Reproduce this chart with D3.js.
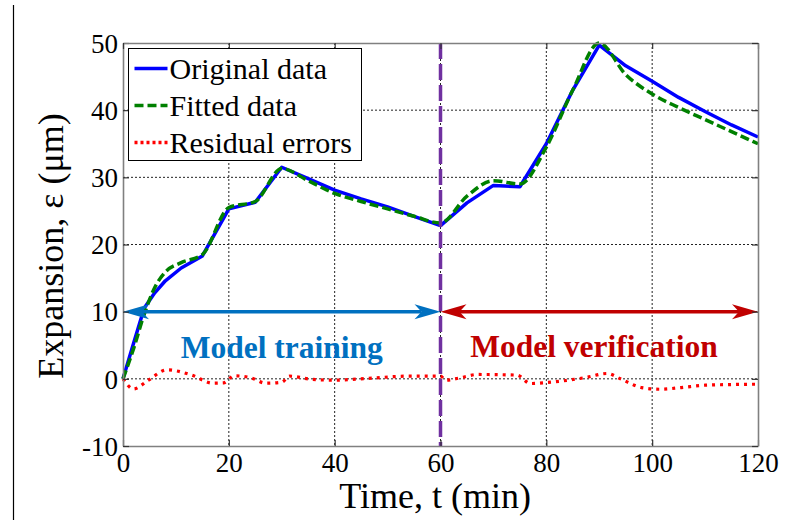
<!DOCTYPE html>
<html>
<head>
<meta charset="utf-8">
<script src="https://cdn.jsdelivr.net/npm/d3@7"></script>
<style>
  body { margin: 0; background: #fff; }
  svg text { font-family: "Liberation Serif", "DejaVu Serif", serif; }
</style>
</head>
<body>
<div id="chart"></div>
<script>
// data
var tOrig = [0, 2, 4, 6, 8, 11, 15, 20, 25, 30, 35, 40, 45, 50, 55, 60, 65, 70, 75, 80, 85, 90, 95, 100, 105, 110, 115, 120];
var vOrig = [0, 5.3, 10.5, 12.8, 14.6, 16.5, 18.3, 25.3, 26.3, 31.5, 29.8, 28.1, 26.8, 25.6, 24.2, 22.8, 26.2, 28.8, 28.6, 35, 43, 49.7, 46.6, 44.3, 41.9, 39.8, 37.8, 36];
var tFit = [0, 2, 4, 6, 8, 11, 15, 20, 25, 30, 35, 40, 45, 50, 55, 60, 65, 70, 75, 80, 85, 90, 95, 100, 105, 110, 115, 120];
var vFit = [0, 4.5, 9.6, 13.6, 15.9, 17.3, 18.5, 25.5, 26.4, 31.3, 29.5, 27.6, 26.4, 25.3, 24.2, 23.2, 27.2, 29.5, 29.0, 34.5, 43, 50, 45.3, 42.4, 40.4, 38.6, 36.8, 35];
var tRes = [0, 2, 4.8, 8.3, 13, 17, 19, 21, 24, 27, 30, 31.5, 35, 39.5, 46, 54, 60, 61, 64, 67, 74.5, 77, 80, 87.5, 91.5, 94, 98, 101.5, 105.5, 110, 120];
var vRes = [0, -1.5, -0.2, 1.35, 0.55, -0.65, -0.6, 0.45, 0.2, -0.65, -0.5, 0.4, 0, -0.2, 0.05, 0.4, 0.4, -0.2, 0.2, 0.65, 0.55, -0.7, -0.55, 0.2, 0.8, 0, -1.3, -1.55, -1.3, -0.95, -0.8];
var xTicks = [0, 20, 40, 60, 80, 100, 120];
var yTicks = [-10, 0, 10, 20, 30, 40, 50];
var legendLabels = ["Original data", "Fitted data", "Residual errors"];
var splitTime = 60;
var arrowLevel = 10;

var W = 785, H = 520;
var margin = {top: 43, right: 27, bottom: 74, left: 123};
var width = W - margin.left - margin.right;
var height = H - margin.top - margin.bottom;
var serif = "'Liberation Serif', 'DejaVu Serif', serif";

var svg = d3.select("#chart").append("svg")
  .attr("width", W).attr("height", H)
  .attr("font-family", serif);

// page border line on the left
svg.append("line")
  .attr("x1", 13.5).attr("x2", 13.5).attr("y1", 5).attr("y2", H)
  .attr("stroke", "#000").attr("stroke-width", 1.2);

var g = svg.append("g").attr("transform", "translate(" + margin.left + "," + margin.top + ")");

var x = d3.scaleLinear().domain([0, 120]).range([0, width]);
var y = d3.scaleLinear().domain([-10, 50]).range([height, 0]);

// grid
g.selectAll(".gx").data(xTicks.slice(1, -1)).enter().append("line")
  .attr("x1", d => x(d)).attr("x2", d => x(d)).attr("y1", 0).attr("y2", height)
  .attr("stroke", "#222").attr("stroke-width", 1).attr("stroke-dasharray", "2,2");
g.selectAll(".gy").data(yTicks.slice(1, -1)).enter().append("line")
  .attr("x1", 0).attr("x2", width).attr("y1", d => y(d)).attr("y2", d => y(d))
  .attr("stroke", "#222").attr("stroke-width", 1).attr("stroke-dasharray", "2,2");

var line = d3.line().x(d => x(d[0])).y(d => y(d[1]));
var smooth = d3.line().x(d => x(d[0])).y(d => y(d[1])).curve(d3.curveMonotoneX);

g.append("path").datum(d3.zip(tOrig, vOrig)).attr("d", line)
  .attr("fill", "none").attr("stroke", "#0000ff").attr("stroke-width", 3.5).attr("stroke-linejoin", "round");
g.append("path").datum(d3.zip(tFit, vFit)).attr("d", smooth)
  .attr("fill", "none").attr("stroke", "#008000").attr("stroke-width", 3.5).attr("stroke-dasharray", "9,4");
g.append("path").datum(d3.zip(tRes, vRes)).attr("d", smooth)
  .attr("fill", "none").attr("stroke", "#ff0000").attr("stroke-width", 3.2).attr("stroke-dasharray", "3,5");

// split line
g.append("line")
  .attr("x1", x(splitTime)).attr("x2", x(splitTime)).attr("y1", 0).attr("y2", height)
  .attr("stroke", "#7030a0").attr("stroke-width", 3.5).attr("stroke-dasharray", "16,5");

// double headed arrows
var headL = 26, headW = 7.5, notch = 7;
function arrow(t0, t1, color) {
  var x0 = x(t0), x1 = x(t1), yy = y(arrowLevel);
  g.append("line")
    .attr("x1", x0 + headL - notch).attr("x2", x1 - headL + notch)
    .attr("y1", yy).attr("y2", yy)
    .attr("stroke", color).attr("stroke-width", 3.5);
  [[x0, 1], [x1, -1]].forEach(function(p) {
    var tip = p[0], k = p[1];
    g.append("path")
      .attr("d", "M" + tip + "," + yy +
        "L" + (tip + k * headL) + "," + (yy - headW) +
        "L" + (tip + k * (headL - notch)) + "," + yy +
        "L" + (tip + k * headL) + "," + (yy + headW) + "Z")
      .attr("fill", color);
  });
}
arrow(0, splitTime, "#0070c0");
arrow(splitTime, 120, "#c00000");

g.append("text").attr("x", x(30)).attr("y", y(arrowLevel) + 46)
  .attr("text-anchor", "middle").attr("font-size", "31.5px").attr("font-weight", "bold")
  .attr("fill", "#0070c0").text("Model training");
g.append("text").attr("x", x(89)).attr("y", y(arrowLevel) + 45)
  .attr("text-anchor", "middle").attr("font-size", "31.5px").attr("font-weight", "bold")
  .attr("fill", "#c00000").text("Model verification");

// axes
var axisColor = "#808080";
var fmt = function(d) { return String(d); };
var xAxis = g.append("g").attr("transform", "translate(0," + height + ")")
  .call(d3.axisBottom(x).tickValues(xTicks).tickFormat(fmt).tickSize(-6).tickSizeOuter(0).tickPadding(7));
var yAxis = g.append("g")
  .call(d3.axisLeft(y).tickValues(yTicks).tickFormat(fmt).tickSize(-6).tickSizeOuter(0).tickPadding(5));
var xTop = g.append("g")
  .call(d3.axisTop(x).tickValues(xTicks).tickSize(-6).tickSizeOuter(0).tickFormat(""));
var yRight = g.append("g").attr("transform", "translate(" + width + ",0)")
  .call(d3.axisRight(y).tickValues(yTicks).tickSize(-6).tickSizeOuter(0).tickFormat(""));

[xAxis, yAxis, xTop, yRight].forEach(function(a) {
  a.attr("font-family", serif);
  a.select(".domain").attr("stroke", axisColor).attr("stroke-width", 1.6);
  a.selectAll(".tick line").attr("stroke", "#333").attr("stroke-width", 1.2);
  a.selectAll("text").attr("font-size", "27px").attr("fill", "#000");
});
xAxis.selectAll("text").attr("dy", "0.71em");
yAxis.selectAll("text").attr("dy", "0.34em");

// axis titles
svg.append("text")
  .attr("x", margin.left + x(59)).attr("y", 508)
  .attr("text-anchor", "middle").attr("font-size", "36px").text("Time, t (min)");
svg.append("text")
  .attr("transform", "translate(63," + 246 + ") rotate(-90)")
  .attr("text-anchor", "middle").attr("font-size", "36px").text("Expansion, \u03b5 (\u03bcm)");

// legend
var legend = svg.append("g").attr("transform", "translate(128.5,48.5)");
legend.append("rect").attr("width", 233).attr("height", 112)
  .attr("fill", "#fff").attr("stroke", "#000").attr("stroke-width", 1);
var styles = [
  {color: "#0000ff", dash: null},
  {color: "#008000", dash: "9,4"},
  {color: "#ff0000", dash: "3,3"}
];
legendLabels.forEach(function(lbl, i) {
  var ly = 20 + i * 37;
  legend.append("line").attr("x1", 6).attr("x2", 39).attr("y1", ly).attr("y2", ly)
    .attr("stroke", styles[i].color).attr("stroke-width", 3.5)
    .attr("stroke-dasharray", styles[i].dash);
  legend.append("text").attr("x", 41).attr("y", ly + 10)
    .attr("font-size", "30px").text(lbl);
});
</script>
</body>
</html>
